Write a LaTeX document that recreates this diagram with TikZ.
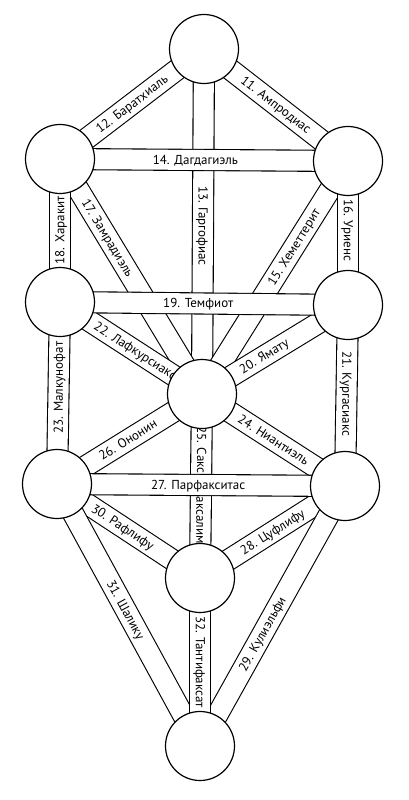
\documentclass[tikz,border=0pt]{standalone}
\usepackage{fontspec}
\setmainfont{PT Sans}
\pgfdeclarelayer{bands}
\pgfsetlayers{bands,main}
\begin{document}
\begin{tikzpicture}[x=1pt,y=-1pt,
  sefira/.style={circle,draw=black,line width=1.2pt,fill=white,minimum size=69pt,inner sep=0pt},
  band/.style={draw=black,line width=1.1pt,double=white,double distance=20pt},
  lbl/.style={font=\fontsize{13}{13}\selectfont,inner sep=0pt,text height=9pt,text depth=0.5pt,anchor=center}]
\useasboundingbox (0,0) rectangle (409,800);
% sefirot
\node[sefira] (K)  at (204,49)  {};
\node[sefira] (Ch) at (348,161) {};
\node[sefira] (B)  at (60,159)  {};
\node[sefira] (Che) at (348,305) {};
\node[sefira] (G)  at (60,302)  {};
\node[sefira] (T)  at (202,394) {};
\node[sefira] (N)  at (345,486) {};
\node[sefira] (H)  at (57,484)  {};
\node[sefira] (Y)  at (200,578) {};
\node[sefira] (M)  at (200,746) {};
\begin{pgfonlayer}{bands}
\draw[band] (K.center) -- (T.center) node[lbl,pos=0.513,rotate=-90] (l13) {13. Гаргофиас};
\draw[band] (B.center) -- (T.center) node[lbl,pos=0.336,sloped] (l17) {17. Замрадиэль};
\draw[band] (T.center) -- (Ch.center) node[lbl,pos=0.63,sloped] (l15) {15. Хеметтерит};
\draw[band] (T.center) -- (Y.center)
  node[lbl,pos=0.304,rotate=-90] (l25a) {25. Сакс}
  node[lbl,pos=0.685,rotate=-90] (l25b) {аксалим};
\draw[band] (G.center) -- (T.center) node[lbl,pos=0.53,sloped] (l22) {22. Лафкурсиакс};
\draw[band] (T.center) -- (Che.center) node[lbl,pos=0.425,sloped] (l20) {20. Ямату};
\draw[band] (H.center) -- (T.center) node[lbl,pos=0.49,sloped] (l26) {26. Ононин};
\draw[band] (T.center) -- (N.center) node[lbl,pos=0.5,sloped] (l24) {24. Ниантиэль};
\draw[band] (H.center) -- (Y.center) node[lbl,pos=0.46,sloped] (l30) {30. Рафлифу};
\draw[band] (Y.center) -- (N.center) node[lbl,pos=0.5,sloped] (l28) {28. Цуфлифу};
\draw[band] (H.center) -- (M.center) node[lbl,pos=0.48,sloped] (l31) {31. Шалику};
\draw[band] (M.center) -- (N.center) node[lbl,pos=0.43,sloped] (l29) {29. Кулиэльфи};
\draw[band] (Y.center) -- (M.center) node[lbl,pos=0.5,rotate=-90] (l32) {32. Тантифаксат};
\draw[band] (B.center) -- (G.center) node[lbl,pos=0.5,rotate=90] (l18) {18. Харакит};
\draw[band] (Ch.center) -- (Che.center) node[lbl,pos=0.48,rotate=-90] (l16) {16. Уриенс};
\draw[band] (G.center) -- (H.center) node[lbl,pos=0.47,rotate=90] (l23) {23. Малкунофат};
\draw[band] (Che.center) -- (N.center) node[lbl,pos=0.49,rotate=-90] (l21) {21. Кургасиакс};
\draw[band] (B.center) -- (K.center) node[lbl,pos=0.5,sloped] (l12) {12. Баратхиаль};
\draw[band] (K.center) -- (Ch.center) node[lbl,pos=0.5,sloped] (l11) {11. Ампродиас};
\draw[band] (B.center) -- (Ch.center) node[lbl,pos=0.47] (l14) {14. Дагдагиэль};
\draw[band] (G.center) -- (Che.center) node[lbl,pos=0.48] (l19) {19. Темфиот};
\draw[band] (H.center) -- (N.center) node[lbl,pos=0.49] (l27) {27. Парфакситас};
\end{pgfonlayer}
\end{tikzpicture}
\end{document}
